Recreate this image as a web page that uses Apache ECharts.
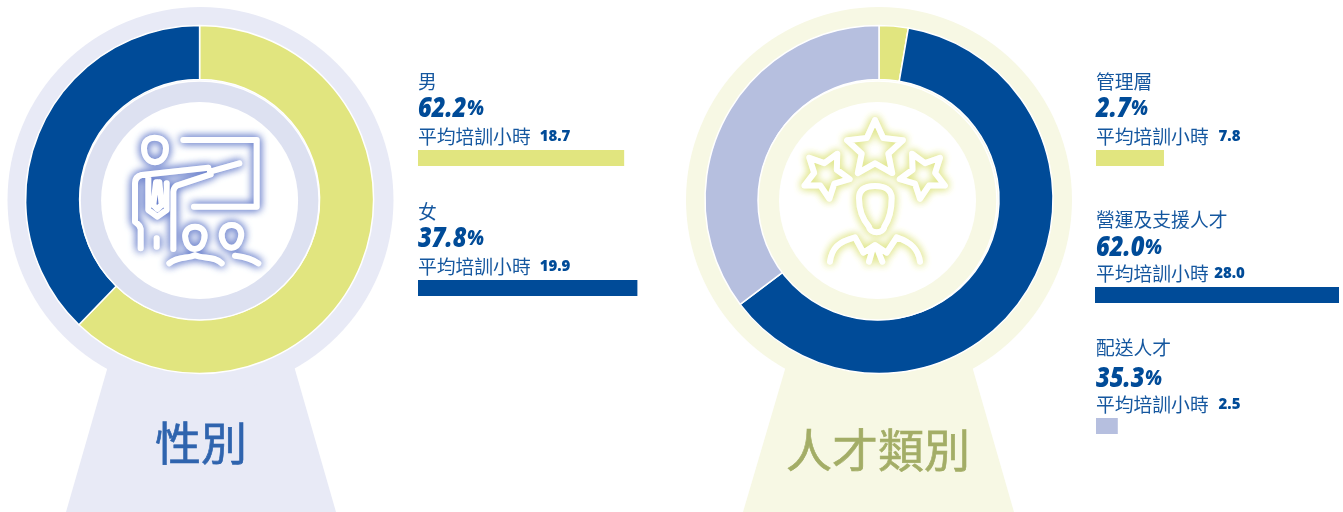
<!DOCTYPE html>
<html><head><meta charset="utf-8">
<style>html,body{margin:0;padding:0;background:#fff}#c{width:1343px;height:512px}</style>
<script src="https://cdn.jsdelivr.net/npm/echarts@6/dist/echarts.min.js"></script>
</head><body><div id="c"></div>
<script>
// --- data ---
const genderNames = ['男', '女'];
const genderShare = [62.2, 37.8];
const genderHours = [18.7, 19.9];
const talentNames = ['管理層', '營運及支援人才', '配送人才'];
const talentShare = [2.7, 62.0, 35.3];
const talentHours = [7.8, 28.0, 2.5];
const hoursLabel = '平均培訓小時';
const titles = ['性別', '人才類別'];

// --- palette ---
const YELLOW = '#e1e57f', BLUE = '#004b98', LAV = '#b6bfdf', TXT = '#15579f';
const genderColors = [YELLOW, BLUE];
const talentColors = [YELLOW, BLUE, LAV];
const CJK = '"Noto Sans CJK TC"', LAT = '"Open Sans"';

// --- layout (name y, value y, hours y, bar top, bar x) ---
const genderRows = [[82,108,137,150,418],[212,238,267,280,418]];
const talentRows = [[82,108,137,150,1096],[220,247,274,287,1095],[348,378,405,418,1096]];
const genderLayout = {x:418, hx:555, axisMax:20, w:220.5};
const talentLayout = {x:1096, hx:1229.5, axisMax:28, w:244};

const grids=[], xAxes=[], yAxes=[], series=[], gfx=[];

function txt(text,x,y,font,fill,align,extra){
  gfx.push({type:'text',z:5,silent:true,style:Object.assign({text,x,y,font,fill,textAlign:align||'left',textVerticalAlign:'middle'},extra||{})});
}
function block(names,share,hours,colors,rows,lay){
  names.forEach((n,i)=>{
    const r=rows[i];
    txt(n,lay.x,r[0],'400 18.8px '+CJK,TXT);
    gfx.push({type:'text',z:5,silent:true,x:lay.x,y:r[1]+1,scaleX:0.97,scaleY:1.14,style:{
      text:'{a|'+share[i].toFixed(1)+'}{b|%}',x:0,y:0,textAlign:'left',textVerticalAlign:'middle',
      rich:{a:{font:'italic 800 24.5px '+LAT,fill:BLUE},
            b:{font:'italic 800 19px '+LAT,fill:BLUE}}}});
    txt(hoursLabel,lay.x,r[2],'400 18.8px '+CJK,TXT);
    txt(hours[i].toFixed(1),lay.hx,r[2],'800 15px '+LAT,BLUE,'center');
    const g=grids.length;
    grids.push({left:r[4],top:r[3],width:lay.w,height:16,containLabel:false});
    xAxes.push({gridIndex:g,type:'value',min:0,max:lay.axisMax,show:false});
    yAxes.push({gridIndex:g,type:'category',data:[n],show:false});
    series.push({type:'bar',xAxisIndex:g,yAxisIndex:g,data:[hours[i]],barWidth:16,silent:true,
      itemStyle:{color:colors[i]},animation:false});
  });
}
block(genderNames,genderShare,genderHours,genderColors,genderRows,genderLayout);
block(talentNames,talentShare,talentHours,talentColors,talentRows,talentLayout);

function donut(names,share,colors,cx,cy){
  series.push({type:'pie',center:[cx,cy],radius:[120,174],startAngle:90,clockwise:true,silent:true,
    animation:false,label:{show:false},labelLine:{show:false},z:3,
    itemStyle:{borderColor:'#fff',borderWidth:1.5},
    data:names.map((n,i)=>({name:n,value:share[i],itemStyle:{color:colors[i]}}))});
}
donut(genderNames,genderShare,genderColors,199.6,199.5);
donut(talentNames,talentShare,talentColors,879,199.5);

function badge(cx,cy,icx,outer,inner,pts){
  gfx.push({type:'polygon',z:0,silent:true,shape:{points:pts},style:{fill:outer}});
  gfx.push({type:'circle',z:0,silent:true,shape:{cx,cy,r:193},style:{fill:outer}});
  gfx.push({type:'circle',z:4,silent:true,shape:{cx:icx,cy:cy+.5,r:119.5},style:{fill:inner,stroke:'#fff',lineWidth:1.5}});
  gfx.push({type:'circle',z:4,silent:true,shape:{cx:icx,cy:cy+.5,r:98.5},style:{fill:'#fff'}});
}
badge(200.5,200,199.6,'#e8eaf6','#dde1f1',[[108,366],[294,366],[336,512],[66,512]]);
badge(879,200,877.5,'#f7f8e4','#f7f8e4',[[786,366],[972,366],[1014,512],[743,512]]);

function icon(name,d,ox,oy,glow,lw){
  echarts.graphic.registerShape(name,echarts.graphic.extendPath(d,{}));
  const layer=()=>gfx.push({type:name,z:6,silent:true,x:ox,y:oy,scaleX:1/3,scaleY:1/3,
    style:{fill:null,stroke:'#fff',lineWidth:lw,lineCap:'round',lineJoin:'round',shadowBlur:8,shadowColor:glow}});
  layer();layer();
}
function star(cx,cy,R,r,rot){
  let s='';
  for(let i=0;i<10;i++){
    const a=(rot+i*36)*Math.PI/180, q=i%2?r:R;
    s+=(i?'L':'M')+(cx+q*Math.sin(a)).toFixed(1)+' '+(cy-q*Math.cos(a)).toFixed(1);
  }
  return s+'Z';
}
const teacher=[
 'M190 45H410V245H222',
 'M72 70C72 45 90 38 103 38C120 38 138 45 138 70C138 90 128 110 105 112C82 110 72 90 72 70Z',
 'M265 128L65 150Q45 155 45 175V290Q60 300 62 312V370',
 'M270 140L358 115',
 'M272 148L170 182Q160 190 160 200V372',
 'M85 160V255L112 275L140 255V175',
 'M108 172L100 240L112 252L125 240L118 172',
 'M110 340V365',
 'M225 305C250 305 258 325 252 345C248 360 240 372 225 372C210 372 200 360 197 345C192 325 200 305 225 305Z',
 'M335 300C358 300 368 320 362 340C358 355 350 368 335 368C320 368 310 355 306 340C302 320 312 300 335 300Z',
 'M148 415C175 392 205 402 225 390C245 402 285 392 305 415',
 'M345 392C370 395 395 400 415 415'
].join('');
const talent=[
 star(240,118,88,42,0),star(93,195,72,36,28),star(385,195,72,36,-28),
 'M192 265C192 235 215 228 240 228C270 228 290 240 290 265C290 300 285 325 268 350C265 372 225 372 222 350C200 325 192 300 192 265Z',
 'M105 455C110 415 130 395 180 382L205 428L240 405L275 428L305 382C345 395 370 415 375 455',
 'M222 455L232 420M262 455L248 420'
].join('');
icon('iconTeacher',teacher,120,125,'#6a80cc',18);
icon('iconTalent',talent,795,110,'#e0e68a',18);

txt(titles[0],201,443,'400 46px '+CJK,'#2f64ae','center',{stroke:'#2f64ae',lineWidth:0.6});
txt(titles[1],878,450,'400 46px '+CJK,'#a3ad66','center',{stroke:'#a3ad66',lineWidth:0.6});

const chart=echarts.init(document.getElementById('c'),null,{renderer:'canvas'});
chart.setOption({animation:false,backgroundColor:'#fff',tooltip:{show:false},legend:{show:false},
  grid:grids,xAxis:xAxes,yAxis:yAxes,series,graphic:{elements:gfx}});
</script></body></html>
